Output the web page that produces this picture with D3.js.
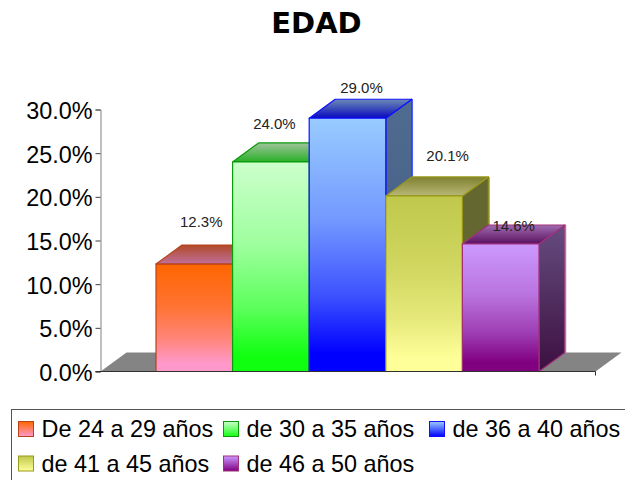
<!DOCTYPE html>
<html><head><meta charset="utf-8">
<script src="https://cdn.jsdelivr.net/npm/d3@7"></script>
<style>html,body{margin:0;padding:0;background:#fff;overflow:hidden}svg{display:block}text{font-family:"Liberation Sans",Arial,sans-serif;fill:#000}</style>
</head><body><div id="c"></div>
<script>
const categories=["De 24 a 29 años","de 30 a 35 años","de 36 a 40 años","de 41 a 45 años","de 46 a 50 años"];
const values=[12.3,24.0,29.0,20.1,14.6];
const yTicks=[0,5,10,15,20,25,30];
const chartTitle="EDAD";
const strokeColors=["#b8431a","#0a9a0a","#1010ff","#98981a","#a0307a"];
const frontTop=["#ff6600","#ccffcc","#99ccff","#c0c84c","#cc99ff"];
const frontBottom=["#ff99cc","#10ff10","#0000ff","#ffff99","#800080"];
const topBack=["#b04a28","#a0c49c","#6c8cb4","#808030","#a06cb0"];
const topFront=["#c0709c","#28b028","#0808c0","#b8b878","#5a1060"];
const sideTop=["#7a3a20","#508050","#4f6c90","#646830","#664c80"];
const sideBottom=["#7a3a20","#508050","#405880","#646830","#3c1040"];
const sideEdge=["#d08060","#80c080","#4a5cff","#8c8c20","#c070a0"];
const labelDx=[7,3.5,14,23.5,13];
const labelDy=[-37,-32.5,-25.7,-35,-13];
const gradEase=[[0,0],[.4,.25],[.7,.6],[.93,1],[1,1]];

const W=625,H=480,baseY=371.5,topY=109.5,axisX=100.5,axisEnd=595.5,dx=26,dy=-19;
const x=d3.scaleBand().domain(categories).range([156,539]).padding(0);
const y=d3.scaleLinear().domain([0,30]).range([baseY,topY]);
const svg=d3.select("#c").append("svg").attr("width",W).attr("height",H);
const defs=svg.append("defs");
function grad(id,a,b,ease){const g=defs.append("linearGradient").attr("id",id).attr("x1",0).attr("y1",0).attr("x2",0).attr("y2",1);
 const m=d3.interpolateRgb(a,b);
 (ease||[[0,0],[1,1]]).forEach(s=>g.append("stop").attr("offset",s[0]).attr("stop-color",m(s[1])));}
categories.forEach((c,i)=>{grad("f"+i,frontTop[i],frontBottom[i],gradEase);grad("t"+i,topBack[i],topFront[i]);grad("s"+i,sideTop[i],sideBottom[i]);grad("l"+i,frontTop[i],frontBottom[i]);});

svg.append("text").attr("x",316.5).attr("y",33).attr("text-anchor","middle").style("font-family","'DejaVu Sans'").style("font-size","29px").style("font-weight","bold").text(chartTitle);

// floor
const fl=d3.path();fl.moveTo(axisX,baseY);fl.lineTo(axisX+dx,baseY+dy);fl.lineTo(axisEnd+dx,baseY+dy);fl.lineTo(axisEnd,baseY);fl.closePath();
svg.append("path").attr("d",fl.toString()).attr("fill","#848484");

// axes
const yAxis=d3.axisLeft(y).tickValues(yTicks).tickFormat(d=>d.toFixed(1)+"%").tickSize(5).tickPadding(3);
const ga=svg.append("g").attr("transform",`translate(${axisX},0)`).call(yAxis);
ga.select(".domain").attr("stroke","#808080");ga.selectAll("line").attr("stroke","#404040");
ga.selectAll("text").style("font-size","23.4px").attr("y",1.5).attr("fill","#000");

// bars
categories.forEach((c,i)=>{
 const g=svg.append("g");
 const l=x(c),r=l+x.bandwidth(),t=y(values[i]),b=y(0);
 const poly=(pts,fill,stroke)=>g.append("polygon").attr("points",pts.map(p=>p.join(",")).join(" ")).attr("fill",fill).attr("stroke",stroke).attr("stroke-width",1.2).attr("stroke-linejoin","round");
 poly([[r,t],[r+dx,t+dy],[r+dx,b+dy],[r,b]],`url(#s${i})`,strokeColors[i]);
 g.append("line").attr("x1",r+dx+.5).attr("x2",r+dx+.5).attr("y1",t+dy).attr("y2",b+dy).attr("stroke",sideEdge[i]).attr("stroke-width",1.5);
 poly([[l,t],[l+dx,t+dy],[r+dx,t+dy],[r,t]],`url(#t${i})`,strokeColors[i]);
 poly([[l,t],[r,t],[r,b],[l,b]],`url(#f${i})`,strokeColors[i]);
});
// baseline on top
svg.append("line").attr("x1",axisX-5).attr("x2",axisEnd).attr("y1",baseY).attr("y2",baseY).attr("stroke","#303030");
svg.append("line").attr("x1",axisEnd).attr("x2",axisEnd).attr("y1",baseY).attr("y2",baseY+4).attr("stroke","#303030");

// labels
categories.forEach((c,i)=>{
 svg.append("text").attr("x",x(c)+x.bandwidth()/2+labelDx[i]).attr("y",y(values[i])+labelDy[i]).attr("text-anchor","middle").style("font-size","15px").style("fill","#222").text(values[i].toFixed(1)+"%");
});

// legend
svg.append("rect").attr("x",11.5).attr("y",409.5).attr("width",640).attr("height",100).attr("fill","#fff").attr("stroke","#555");
const legX=[18,223,429,18,223],legY=[421,421,421,455.5,455.5];
categories.forEach((c,i)=>{
 const g=svg.append("g").attr("transform",`translate(${legX[i]},${legY[i]})`);
 g.append("rect").attr("x",.5).attr("y",.5).attr("width",15).attr("height",15).attr("fill",`url(#l${i})`).attr("stroke",strokeColors[i]);
 g.append("text").attr("x",23.5).attr("y",16).style("font-size","23.4px").text(c);
});
</script></body></html>
